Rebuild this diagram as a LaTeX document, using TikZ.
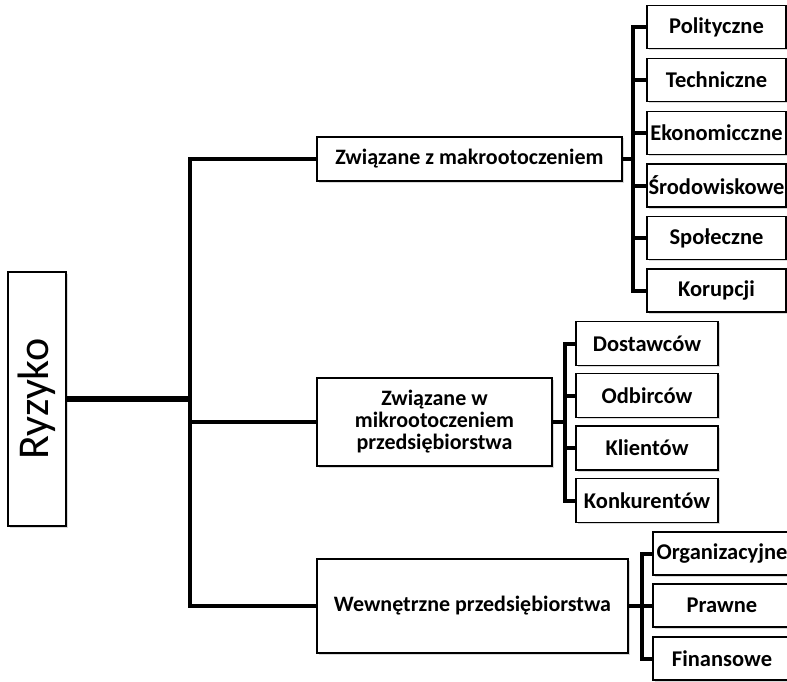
\documentclass[tikz,border=0pt]{standalone}
\usepackage{fontspec}
\usepackage{graphicx}
\setmainfont{Carlito}
\usetikzlibrary{shadows}
\begin{document}
\begin{tikzpicture}[x=1pt,y=-1pt,
  boxbase/.style={draw=black, line width=1.2pt, fill=white, align=center, inner sep=0pt,
    drop shadow={shadow xshift=1.5pt, shadow yshift=-1.5pt, opacity=0.3, fill=gray}},
  midbox/.style={boxbase, font=\bfseries\fontsize{22}{22}\selectfont},
  leafbox/.style={boxbase, font=\bfseries\fontsize{22.5}{23}\selectfont, minimum height=43pt},
  conn/.style={line width=4pt},
  rootconn/.style={line width=5.5pt}]
\useasboundingbox (0,0) rectangle (787,682);

% root
\node[boxbase, minimum width=58pt, minimum height=254pt, font=\fontsize{44}{48}\selectfont] (ryz) at (37,399) {\rotatebox{90}{Ryzyko}};

% middle level
\node[midbox, minimum width=305pt, minimum height=44pt] (b1) at (469.5,159) {Związane z makrootoczeniem};
\node[midbox, minimum width=235pt, minimum height=88pt] (b2) at (434.5,422) {Związane w\\mikrootoczeniem\\przedsiębiorstwa};
\node[midbox, minimum width=311pt, minimum height=94pt] (b3) at (472.5,606) {Wewnętrzne przedsiębiorstwa};

% top group
\node[leafbox, minimum width=139pt] (p1) at (716.5,27) {Polityczne};
\node[leafbox, minimum width=139pt] (p2) at (716.5,80) {Techniczne};
\node[leafbox, minimum width=139pt] (p3) at (716.5,133) {Ekonomicczne};
\node[leafbox, minimum width=139pt] (p4) at (716.5,185.5) {Środowiskowe};
\node[leafbox, minimum width=139pt] (p5) at (716.5,238) {Społeczne};
\node[leafbox, minimum width=139pt] (p6) at (716.5,290.5) {Korupcji};

% middle group
\node[leafbox, minimum width=142pt, minimum height=44pt] (m1) at (647,343.5) {Dostawców};
\node[leafbox, minimum width=142pt, minimum height=44pt] (m2) at (647,395.5) {Odbirców};
\node[leafbox, minimum width=142pt, minimum height=44pt] (m3) at (647,448) {Klientów};
\node[leafbox, minimum width=142pt, minimum height=44pt] (m4) at (647,500.5) {Konkurentów};

% bottom group
\node[leafbox, minimum width=138pt] (w1) at (722,553.5) {Organizacyjne};
\node[leafbox, minimum width=138pt] (w2) at (722,605.5) {Prawne};
\node[leafbox, minimum width=138pt] (w3) at (722,658.5) {Finansowe};

% trunk
\coordinate (t) at (190,399);
\draw[rootconn] (ryz.east) -- (ryz.east -| t);
\draw[conn] (b1.west) -| (t) |- (b3.west);
\draw[conn] (b2.west) -- (b2.west -| t);

% top bracket
\coordinate (g1) at (633,159);
\draw[conn] (b1.east) -- (g1);
\draw[conn] (p1.west) -| (g1) |- (p6.west);
\foreach \n in {p2,p3,p4,p5} \draw[conn] (\n.west) -- (\n.west -| g1);

% middle bracket
\coordinate (g2) at (565,422);
\draw[conn] (b2.east) -- (g2);
\draw[conn] (m1.west) -| (g2) |- (m4.west);
\foreach \n in {m2,m3} \draw[conn] (\n.west) -- (\n.west -| g2);

% bottom bracket
\coordinate (g3) at (642,606);
\draw[conn] (b3.east) -- (g3);
\draw[conn] (w1.west) -| (g3) |- (w3.west);
\draw[conn] (w2.west) -- (w2.west -| g3);
\end{tikzpicture}
\end{document}
